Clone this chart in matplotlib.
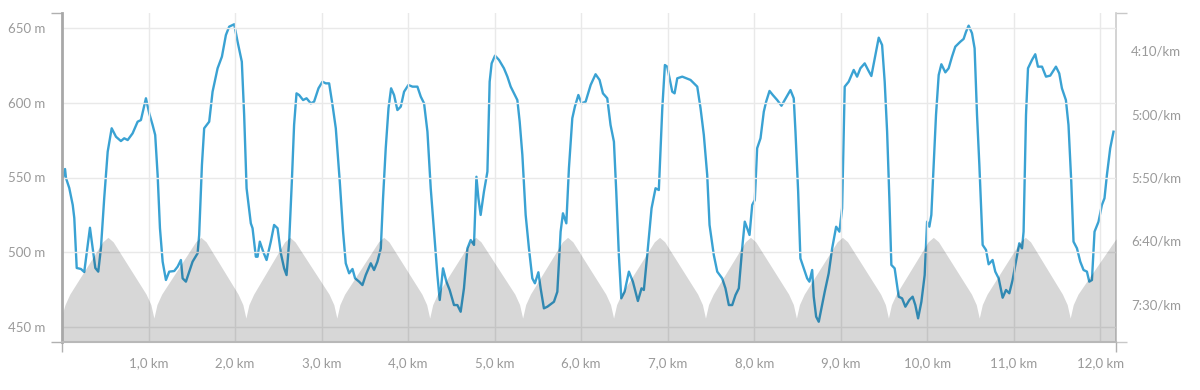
import matplotlib
matplotlib.use("Agg")
import matplotlib.pyplot as plt
from matplotlib.ticker import FixedLocator

# ---------------- data ----------------
# elevation profile (km, m)
elev_km = [0.000, 0.035, 0.090, 0.471, 0.531, 0.591, 0.972, 1.027,
           1.062, 1.097, 1.152, 1.545, 1.605, 1.665, 2.035, 2.090,
           2.125, 2.160, 2.215, 2.573, 2.633, 2.693, 3.086, 3.141,
           3.176, 3.211, 3.266, 3.658, 3.718, 3.778, 4.159, 4.214,
           4.249, 4.284, 4.339, 4.721, 4.781, 4.841, 5.233, 5.288,
           5.323, 5.358, 5.413, 5.783, 5.843, 5.903, 6.284, 6.339,
           6.374, 6.409, 6.464, 6.845, 6.905, 6.965, 7.346, 7.401,
           7.436, 7.471, 7.526, 7.896, 7.956, 8.016, 8.397, 8.452,
           8.487, 8.522, 8.577, 8.958, 9.018, 9.078, 9.460, 9.515,
           9.550, 9.585, 9.640, 10.009, 10.069, 10.129, 10.510, 10.565,
           10.600, 10.635, 10.690, 11.072, 11.132, 11.192, 11.561, 11.616,
           11.651, 11.686, 11.741, 12.180]
elev_m = [458, 465, 472, 507, 510, 507, 472, 465,
          456, 465, 472, 507, 510, 507, 472, 465,
          456, 465, 472, 507, 510, 507, 472, 465,
          456, 465, 472, 507, 510, 507, 472, 465,
          456, 465, 472, 507, 510, 507, 472, 465,
          456, 465, 472, 507, 510, 507, 472, 465,
          456, 465, 472, 507, 510, 507, 472, 465,
          456, 465, 472, 507, 510, 507, 472, 465,
          456, 465, 472, 507, 510, 507, 472, 465,
          456, 465, 472, 507, 510, 507, 472, 465,
          456, 465, 472, 507, 510, 507, 472, 465,
          456, 465, 472, 509]

# pace profile (km, seconds per km)
pace_km = [0.010, 0.035, 0.046, 0.084, 0.124, 0.142, 0.170, 0.219, 0.257, 0.297,
           0.323, 0.354, 0.385, 0.419, 0.450, 0.488, 0.528, 0.574, 0.624, 0.681,
           0.719, 0.759, 0.816, 0.874, 0.912, 0.939, 0.970, 1.008, 1.047, 1.077,
           1.105, 1.132, 1.163, 1.201, 1.239, 1.297, 1.336, 1.374, 1.394, 1.432,
           1.470, 1.509, 1.567, 1.585, 1.617, 1.643, 1.701, 1.740, 1.798, 1.848,
           1.894, 1.932, 1.990, 2.029, 2.078, 2.105, 2.133, 2.182, 2.202, 2.240,
           2.260, 2.286, 2.325, 2.364, 2.413, 2.451, 2.491, 2.529, 2.567, 2.595,
           2.625, 2.656, 2.682, 2.710, 2.740, 2.786, 2.826, 2.875, 2.913, 2.964,
           3.010, 3.048, 3.087, 3.126, 3.164, 3.210, 3.248, 3.279, 3.318, 3.357,
           3.387, 3.433, 3.472, 3.510, 3.568, 3.606, 3.645, 3.684, 3.710, 3.741,
           3.773, 3.803, 3.837, 3.876, 3.915, 3.953, 4.003, 4.050, 4.107, 4.146,
           4.184, 4.223, 4.261, 4.299, 4.338, 4.365, 4.403, 4.442, 4.480, 4.530,
           4.569, 4.607, 4.645, 4.685, 4.723, 4.761, 4.789, 4.812, 4.838, 4.876,
           4.916, 4.942, 4.965, 5.004, 5.050, 5.107, 5.147, 5.185, 5.223, 5.262,
           5.289, 5.320, 5.358, 5.396, 5.435, 5.465, 5.505, 5.531, 5.569, 5.609,
           5.647, 5.685, 5.724, 5.762, 5.789, 5.828, 5.858, 5.897, 5.927, 5.967,
           6.005, 6.051, 6.109, 6.166, 6.212, 6.251, 6.301, 6.339, 6.378, 6.405,
           6.435, 6.463, 6.501, 6.551, 6.597, 6.655, 6.697, 6.724, 6.763, 6.813,
           6.859, 6.897, 6.937, 6.967, 6.994, 7.052, 7.079, 7.110, 7.168, 7.263,
           7.341, 7.379, 7.417, 7.456, 7.483, 7.532, 7.572, 7.629, 7.667, 7.706,
           7.745, 7.783, 7.821, 7.860, 7.890, 7.918, 7.945, 7.976, 8.006, 8.033,
           8.072, 8.110, 8.137, 8.176, 8.214, 8.265, 8.314, 8.352, 8.418, 8.456,
           8.476, 8.507, 8.533, 8.572, 8.611, 8.637, 8.669, 8.687, 8.715, 8.745,
           8.776, 8.814, 8.860, 8.900, 8.946, 8.984, 9.015, 9.045, 9.091, 9.149,
           9.188, 9.226, 9.276, 9.315, 9.353, 9.392, 9.438, 9.477, 9.507, 9.535,
           9.561, 9.584, 9.622, 9.669, 9.708, 9.746, 9.792, 9.830, 9.861, 9.893,
           9.931, 9.969, 9.997, 10.023, 10.046, 10.073, 10.100, 10.131, 10.162, 10.208,
           10.246, 10.285, 10.323, 10.381, 10.419, 10.447, 10.477, 10.516, 10.546, 10.574,
           10.601, 10.639, 10.678, 10.708, 10.754, 10.785, 10.824, 10.870, 10.909, 10.947,
           10.985, 11.024, 11.062, 11.094, 11.112, 11.140, 11.163, 11.209, 11.247, 11.278,
           11.325, 11.371, 11.420, 11.486, 11.524, 11.555, 11.601, 11.631, 11.663, 11.689,
           11.729, 11.767, 11.805, 11.844, 11.871, 11.902, 11.932, 11.978, 12.017, 12.047,
           12.075, 12.113, 12.151]
pace_s = [350.6, 343.3, 350.4, 358.3, 371.7, 382.0, 421.5, 422.3, 424.7, 403.3,
          389.7, 405.7, 421.5, 424.4, 405.7, 366.2, 329.6, 311.1, 317.8, 321.2,
          319.0, 320.4, 315.1, 305.9, 304.6, 296.7, 287.4, 299.3, 308.5, 316.4,
          348.0, 390.1, 416.5, 431.0, 424.4, 423.9, 420.5, 415.2, 429.7, 432.3,
          424.4, 416.5, 409.9, 395.4, 340.1, 311.1, 305.9, 282.2, 263.7, 254.5,
          237.4, 230.8, 228.9, 242.7, 258.5, 300.6, 358.5, 386.2, 390.1, 412.6,
          412.6, 400.7, 408.6, 415.2, 400.7, 387.5, 390.1, 409.9, 421.8, 427.1,
          400.7, 353.3, 308.5, 283.5, 284.8, 288.8, 287.4, 291.4, 290.1, 279.5,
          274.3, 275.6, 275.6, 292.7, 311.1, 353.3, 392.8, 417.8, 425.7, 422.3,
          429.7, 432.3, 435.0, 427.1, 417.8, 423.1, 416.5, 406.0, 366.4, 326.9,
          295.3, 279.5, 284.8, 296.7, 294.0, 282.2, 276.9, 278.2, 278.2, 286.1,
          291.4, 313.8, 358.5, 392.8, 427.1, 446.8, 421.8, 432.3, 438.9, 450.8,
          450.8, 456.1, 437.6, 406.0, 399.4, 403.3, 349.4, 366.4, 379.6, 361.2,
          345.4, 274.3, 259.8, 253.7, 257.1, 263.7, 270.3, 278.2, 283.5, 288.8,
          305.9, 332.2, 379.6, 406.0, 429.7, 433.6, 424.9, 437.6, 453.4, 452.1,
          450.2, 448.2, 440.3, 392.8, 378.3, 386.2, 342.7, 303.2, 294.0, 284.8,
          291.4, 290.1, 276.9, 268.4, 272.9, 283.5, 287.4, 308.5, 321.7, 361.2,
          411.2, 445.5, 440.3, 424.4, 432.3, 447.6, 437.6, 438.9, 411.2, 374.3,
          358.5, 359.9, 295.3, 261.1, 262.4, 282.2, 283.5, 271.6, 270.3, 272.9,
          278.2, 295.3, 316.4, 348.0, 387.5, 411.2, 424.4, 429.7, 437.6, 450.8,
          450.8, 442.9, 437.6, 406.0, 384.9, 390.1, 395.4, 371.7, 367.8, 326.9,
          319.0, 298.0, 290.1, 281.6, 284.8, 288.8, 293.3, 288.8, 280.9, 287.4,
          313.8, 361.2, 413.9, 421.8, 429.7, 432.3, 423.1, 444.2, 460.0, 464.0,
          453.4, 440.3, 425.7, 406.0, 388.9, 392.8, 374.3, 278.2, 274.3, 265.0,
          270.3, 263.7, 259.8, 265.0, 269.8, 255.8, 239.5, 245.3, 274.3, 313.8,
          366.4, 419.1, 421.8, 444.2, 445.5, 452.1, 446.8, 444.2, 450.8, 461.3,
          448.2, 427.1, 384.9, 388.9, 379.6, 340.1, 300.6, 269.0, 260.5, 266.9,
          263.7, 254.5, 246.6, 242.7, 240.5, 234.8, 230.0, 236.0, 247.9, 300.6,
          340.1, 403.3, 407.3, 418.6, 415.2, 424.4, 429.7, 445.0, 438.9, 441.5,
          431.0, 416.5, 402.0, 406.0, 392.8, 300.6, 263.7, 257.1, 252.6, 262.4,
          262.4, 270.3, 269.5, 262.4, 267.7, 279.5, 288.8, 308.5, 353.3, 400.7,
          406.0, 416.5, 423.1, 424.4, 432.3, 431.0, 392.8, 384.9, 371.7, 366.4,
          348.0, 326.9, 313.8]

elev_ticks = [450, 500, 550, 600, 650]
elev_labels = ["450 m", "500 m", "550 m", "600 m", "650 m"]
pace_ticks = [250, 300, 350, 400, 450]
pace_labels = ["4:10/km", "5:00/km", "5:50/km", "6:40/km", "7:30/km"]
km_ticks = [1, 2, 3, 4, 5, 6, 7, 8, 9, 10, 11, 12]
km_labels = ["1,0 km", "2,0 km", "3,0 km", "4,0 km", "5,0 km", "6,0 km",
             "7,0 km", "8,0 km", "9,0 km", "10,0 km", "11,0 km", "12,0 km"]

# ---------------- figure ----------------
plt.rcParams['font.family'] = ['Lato', 'DejaVu Sans']
TXT = '#9a9a9a'
fig = plt.figure(figsize=(12, 3.9), dpi=100)
ax = fig.add_axes([62/1200, 1 - 342/390, (1116 - 62)/1200, (342 - 13)/390])
ax2 = ax.twinx()

XMAX = 12.18
ax.set_xlim(0, XMAX)
ax.set_ylim(440, 660)
ax2.set_ylim(480, 220)

# pace line (below)
ax2.plot(pace_km, pace_s, color='#3aa2d3', lw=1.7, solid_joinstyle='round', zorder=3)

# elevation area (on top, translucent)
ax.set_zorder(ax2.get_zorder() + 1)
ax.patch.set_visible(False)
ax.fill_between(elev_km, 440, elev_m, color='black', alpha=0.155, lw=0, zorder=2)

# grid
for v in elev_ticks:
    ax.axhline(v, color='#e9e9e9', lw=1, zorder=1)
for k in km_ticks:
    ax.axvline(k, color='#e9e9e9', lw=1, zorder=1)

# ticks
ax.yaxis.set_major_locator(FixedLocator(elev_ticks))
ax.set_yticklabels(elev_labels)
ax.yaxis.set_minor_locator(FixedLocator([440, 660]))
ax.tick_params(axis='y', which='major', length=0, pad=12, labelsize=9.5, labelcolor=TXT)
ax.tick_params(axis='y', which='minor', length=8, width=1, color='#b0b0b0')

ax.xaxis.set_major_locator(FixedLocator(km_ticks))
ax.set_xticklabels(km_labels)
ax.xaxis.set_minor_locator(FixedLocator([0, XMAX]))
ax.tick_params(axis='x', which='major', length=0, pad=11, labelsize=9.5, labelcolor=TXT)
ax.tick_params(axis='x', which='minor', length=7, width=1, color='#b0b0b0')

ax2.yaxis.set_major_locator(FixedLocator(pace_ticks))
ax2.set_yticklabels(pace_labels)
ax2.yaxis.set_minor_locator(FixedLocator([220, 480]))
ax2.tick_params(axis='y', which='major', length=0, pad=11, labelsize=9.5, labelcolor=TXT)
ax2.tick_params(axis='y', which='minor', length=8, width=1, color='#c8c8c8')

# spines
for a in (ax, ax2):
    a.spines['top'].set_visible(False)
ax.spines['left'].set_color('#a8a8a8')
ax.spines['left'].set_linewidth(2)
ax.spines['bottom'].set_color('#b8b8b8')
ax.spines['bottom'].set_linewidth(1.5)
ax.spines['right'].set_visible(False)
ax2.spines['left'].set_visible(False)
ax2.spines['bottom'].set_visible(False)
ax2.spines['right'].set_color('#cccccc')
ax2.spines['right'].set_linewidth(1.2)

fig.savefig('out.png', dpi=100, facecolor='white')
